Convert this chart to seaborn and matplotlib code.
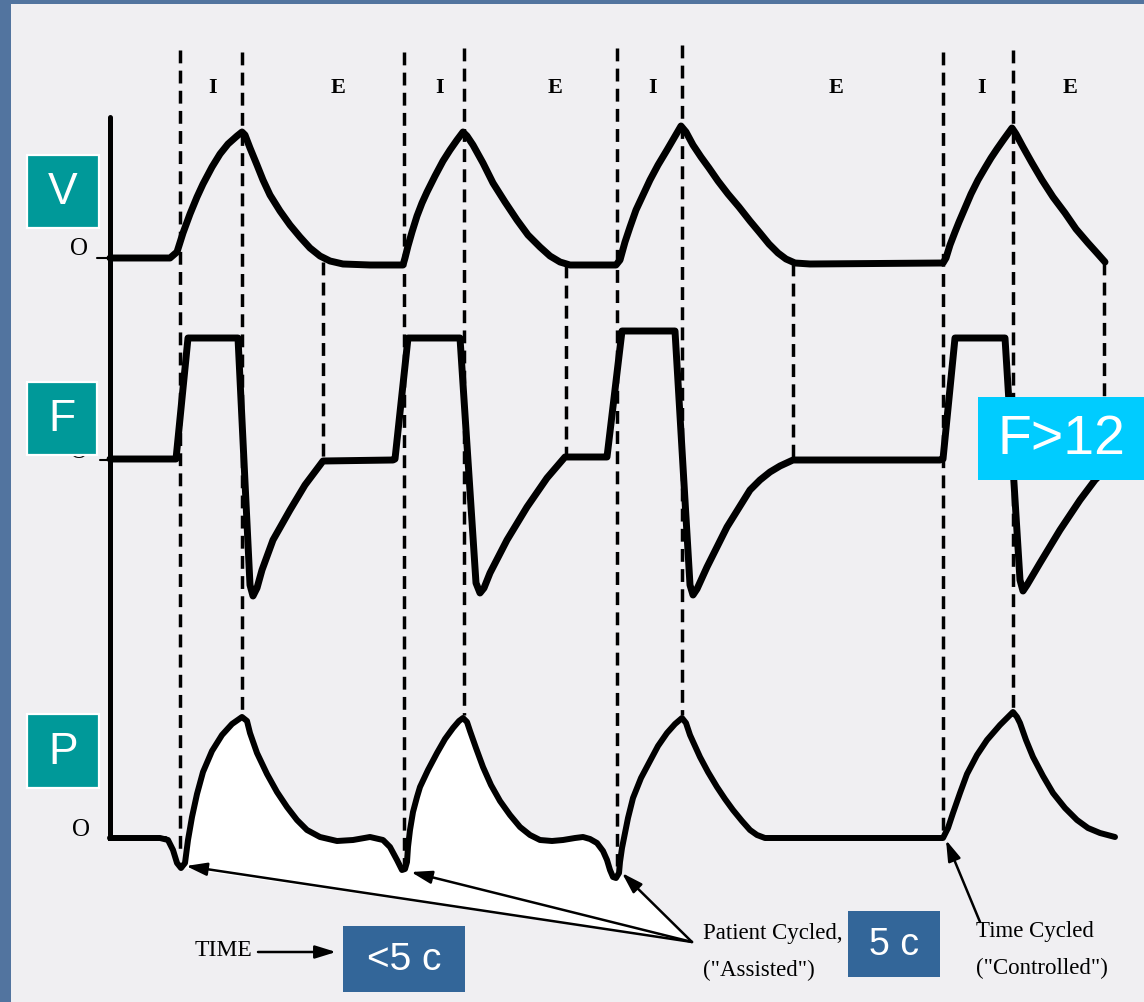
import numpy as np
import pandas as pd
import seaborn as sns
import matplotlib.pyplot as plt
from matplotlib.patches import Rectangle

# ---------------- data (pixel-like units) ----------------
phase_labels = ['I', 'E', 'I', 'E', 'I', 'E', 'I', 'E']
phase_label_x = [213, 338, 440, 555, 653, 836, 982, 1070]

# dashed event lines: x, top, bottom
dash_x = [180, 242, 323, 404, 464, 566, 617, 682, 793, 943, 1013, 1104]
dash_top = [50, 52, 262, 52, 48, 265, 48, 45, 263, 52, 50, 262]
dash_bot = [855, 714, 460, 866, 715, 457, 866, 715, 460, 832, 710, 470]

# volume waveform
vol_t = [110, 170, 177, 183, 190, 197, 203, 212, 220, 228, 237, 242,
         245, 250, 257, 263, 270, 280, 290, 300, 310, 320, 330, 343, 370, 403,
         405, 408, 412, 417, 422, 427, 435, 443, 450, 457, 463,
         467, 473, 483, 493, 505, 517, 528, 540, 550, 560, 570, 580, 616,
         620, 625, 630, 636, 643, 650, 658, 667, 674, 681,
         686, 693, 701, 709, 718, 728, 739, 750, 760, 769, 778, 786, 795, 810, 943,
         946, 950, 955, 959, 965, 971, 978, 985, 991, 997, 1004, 1012,
         1016, 1023, 1032, 1042, 1053, 1065, 1076, 1088, 1097, 1105]
vol_v = [258, 258, 252, 233, 214, 197, 184, 167, 154, 144, 136, 132,
         135, 148, 165, 180, 195, 211, 225, 237, 248, 256, 261, 264, 265, 265,
         258, 246, 232, 216, 203, 192, 176, 161, 150, 140, 132,
         136, 145, 163, 183, 202, 220, 235, 247, 256, 262, 265, 265, 265,
         260, 242, 227, 210, 195, 180, 165, 150, 138, 126,
         132, 145, 157, 168, 181, 194, 207, 221, 233, 244, 253, 259, 263, 264, 263,
         258, 245, 232, 222, 208, 194, 180, 168, 158, 149, 139, 128,
         134, 147, 163, 180, 197, 213, 229, 243, 253, 262]

# flow waveform
flow_t = [110, 176, 188, 238, 250, 253, 257, 262, 273, 290, 305, 323, 393,
          395, 408, 460, 476, 480, 484, 490, 507, 527, 547, 565, 605,
          607, 622, 675, 690, 693, 697, 707, 727, 750, 760, 770, 780, 793, 940,
          943, 955, 1005, 1020, 1023, 1027, 1040, 1060, 1080, 1095, 1110, 1125]
flow_f = [459, 459, 338, 338, 585, 596, 588, 570, 540, 510, 485, 461, 460,
          459, 338, 338, 583, 593, 588, 573, 540, 507, 478, 457, 457,
          457, 331, 331, 585, 595, 589, 567, 527, 490, 480, 472, 466, 460, 460,
          459, 338, 338, 580, 591, 585, 563, 530, 500, 480, 465, 455]

# pressure waveform
pres_t = [110, 160, 168, 173, 177, 181, 185, 188, 192, 197, 203, 212, 222, 232, 242,
          247, 250, 257, 267, 277, 287, 297, 307, 320, 337, 353, 370, 383, 390, 397, 402,
          405, 407, 408, 410, 413, 417, 420, 428, 437, 445, 453, 459, 463,
          467, 470, 476, 483, 491, 500, 510, 520, 530, 540, 552, 563, 575, 583, 590, 597,
          603, 607, 610, 613, 616,
          619, 620, 622, 625, 628, 633, 641, 650, 658, 667, 675, 682,
          686, 690, 695, 700, 708, 717, 725, 733, 742, 750, 757, 765, 780, 943,
          948, 953, 960, 967, 977, 987, 1000, 1010, 1013, 1017, 1020, 1026, 1033, 1043,
          1053, 1065, 1077, 1088, 1100, 1115]
pres_p = [838, 838, 840, 850, 863, 868, 863, 840, 817, 794, 772, 751, 735, 724, 717,
          721, 733, 753, 774, 792, 807, 820, 830, 837, 841, 840, 837, 840, 847, 860, 870,
          869, 862, 847, 830, 812, 797, 787, 770, 753, 739, 728, 721, 718,
          722, 731, 748, 767, 785, 801, 815, 827, 835, 840, 841, 840, 838, 837, 839, 843,
          851, 860, 870, 877, 878,
          873, 862, 848, 833, 818, 798, 778, 761, 746, 733, 724, 718,
          723, 735, 746, 757, 772, 787, 799, 810, 821, 830, 835, 838, 838, 838,
          828, 813, 793, 774, 755, 740, 725, 715, 712, 717, 723, 740, 757, 776,
          793, 808, 820, 828, 833, 837]

# arrows
assist_origin = (692, 942)
assist_tips_t = [186, 411, 622]
assist_tips_p = [866, 872, 873]
controlled_tip = (946, 840)
controlled_origin = (980, 922)

# ---------------- figure ----------------
sns.set_theme(style="white")
plt.rcParams['font.family'] = ['DejaVu Sans']

BG = '#52749f'
PAPER = '#f0eff2'
TEAL = '#009999'
STEEL = '#336699'
CYAN = '#00ccff'

fig = plt.figure(figsize=(11.44, 10.02), dpi=100)
fig.patch.set_facecolor(BG)
ax = fig.add_axes([0, 0, 1, 1])
ax.add_patch(Rectangle((11, 4), 1133, 998, facecolor=PAPER, edgecolor='none', zorder=0))

# white fill under pressure curve bounded by the assist arrows
pt = np.array(pres_t)
pp = np.array(pres_p)
sel = (pt >= 181) & (pt <= 619)
fx = list(pt[sel]) + [assist_origin[0]]
fy = list(pp[sel]) + [assist_origin[1]]
ax.fill(fx, fy, color='white', zorder=1, lw=0)

# dashed lines
for x, t, b in zip(dash_x, dash_top, dash_bot):
    ax.plot([x, x], [t, b], color='black', lw=2.5, linestyle=(0, (3.7, 2.1)), zorder=2)

# axis line + zero ticks
ax.plot([110, 110, 165], [117, 838, 838], color='black', lw=3.6, zorder=3, solid_joinstyle='miter')
ax.plot([97, 110], [258, 258], color='black', lw=1.5, zorder=3)
ax.plot([100, 110], [460, 460], color='black', lw=1.5, zorder=3)

serif = ['Liberation Serif', 'DejaVu Serif']
sans = ['Liberation Sans', 'DejaVu Sans']
ax.text(79, 249, 'O', family=serif, fontsize=18, ha='center', va='center', color='black', zorder=3)
ax.text(79, 452, 'O', family=serif, fontsize=18, ha='center', va='center', color='black', zorder=3)
ax.text(81, 830, 'O', family=serif, fontsize=18, ha='center', va='center', color='black', zorder=3)

# waveforms
kw = dict(sort=False, estimator=None, color='black', ax=ax, legend=False)
df_v = pd.DataFrame({'t': vol_t, 'y': vol_v})
df_f = pd.DataFrame({'t': flow_t, 'y': flow_f})
df_p = pd.DataFrame({'t': pres_t, 'y': pres_p})
for df, lw in [(df_v, 5.0), (df_f, 5.0), (df_p, 4.3)]:
    sns.lineplot(data=df, x='t', y='y', lw=lw, solid_capstyle='round', solid_joinstyle='round', zorder=4, **kw)
ax.set_xlim(0, 1144)
ax.set_ylim(1002, 0)
ax.axis('off')

# phase labels
for lab, x in zip(phase_labels, phase_label_x):
    ax.text(x, 88, lab, family=serif, fontweight='bold', fontsize=16, ha='center', va='center', color='black', zorder=3)

# arrows
aprops = dict(arrowstyle='-|>,head_length=0.9,head_width=0.28', color='black', lw=1.8,
              shrinkA=0, shrinkB=0, mutation_scale=14)
for tx, ty in zip(assist_tips_t, assist_tips_p):
    ax.annotate('', xy=(tx, ty), xytext=assist_origin, arrowprops=aprops, zorder=5)
ax.annotate('', xy=controlled_tip, xytext=controlled_origin, arrowprops=aprops, zorder=5)
ax.annotate('', xy=(336, 952), xytext=(258, 952), arrowprops=aprops, zorder=5)

# bottom texts
ax.text(195, 950, 'TIME', family=serif, fontsize=17, ha='left', va='center', color='black', zorder=3)
ax.text(703, 934, 'Patient Cycled,', family=serif, fontsize=16.5, ha='left', va='center', color='black', zorder=3)
ax.text(703, 970, '("Assisted")', family=serif, fontsize=16.5, ha='left', va='center', color='black', zorder=3)
ax.text(976, 932, 'Time Cycled', family=serif, fontsize=16.5, ha='left', va='center', color='black', zorder=3)
ax.text(976, 968, '("Controlled")', family=serif, fontsize=16.5, ha='left', va='center', color='black', zorder=3)

# overlay boxes
boxes = [
    (27, 155, 72, 73, TEAL, 'V', 32, True),
    (27, 382, 70, 73, TEAL, 'F', 32, True),
    (27, 714, 72, 74, TEAL, 'P', 32, True),
    (978, 397, 166, 83, CYAN, 'F>12', 40, False),
    (343, 926, 122, 66, STEEL, '<5 c', 28, False),
    (848, 911, 92, 66, STEEL, '5 c', 27, False),
]
for x, y, w, h, col, txt, fs, edge in boxes:
    ax.add_patch(Rectangle((x, y), w, h, facecolor=col,
                           edgecolor='white' if edge else 'none', lw=1.6 if edge else 0, zorder=10))
    ax.text(x + w / 2, y + h / 2 + 1, txt, family=sans, fontsize=fs, color='white',
            ha='center', va='center', zorder=11)

fig.savefig('out.png', dpi=100, facecolor=fig.get_facecolor())
